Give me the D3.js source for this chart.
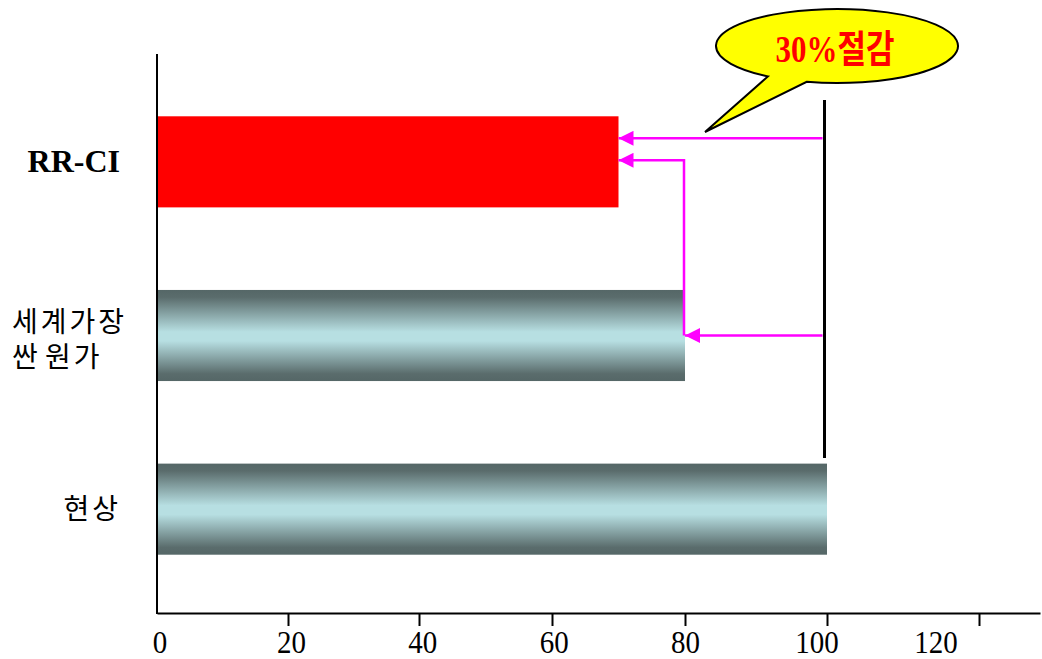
<!DOCTYPE html>
<html>
<head>
<meta charset="utf-8">
<script src="https://cdn.jsdelivr.net/npm/d3@7/dist/d3.min.js"></script>
<style>
  html, body { margin: 0; padding: 0; background: #fff; }
  svg { display: block; }
</style>
</head>
<body>
<svg id="chart" width="1042" height="659"></svg>
<script>
// ---- data ----
const categories = ["RR-CI", "세계가장 싼 원가", "현상"];
const values = [70, 80, 100];
const tickValues = [0, 20, 40, 60, 80, 100, 120];
const tickLabels = ["0", "20", "40", "60", "80", "100", "120"];
const baselineValue = 100;
const calloutNumber = "30%";
const calloutWord = "절감";

// ---- layout ----
const svg = d3.select("#chart");

// the reference axis is slightly non-uniform; piecewise linear scales reproduce it
const x = d3.scaleLinear()
  .domain([0, 40, 80, 100, 120, 128])
  .range([157, 419, 685, 827, 979, 1040]);
const xLabel = d3.scaleLinear()
  .domain([0, 100, 120])
  .range([160, 817, 936]);
const y = d3.scaleBand()
  .domain(categories)
  .range([75, 596])
  .paddingInner(0.4755)
  .paddingOuter(0.2378);
const axisY = 613, axisTop = 54;

const defs = svg.append("defs");
const grad = defs.append("linearGradient")
  .attr("id", "steel").attr("x1", 0).attr("y1", 0).attr("x2", 0).attr("y2", 1);
[[0, "#556767"], [0.08, "#5a6c6c"], [0.46, "#b7dfe2"], [0.56, "#b7dfe2"], [0.92, "#5a6c6c"], [1, "#556767"]]
  .forEach(([o, c]) => grad.append("stop").attr("offset", o).attr("stop-color", c));

defs.append("marker")
  .attr("id", "arrow").attr("viewBox", "0 0 15 15")
  .attr("refX", 15).attr("refY", 7.5)
  .attr("markerWidth", 15).attr("markerHeight", 15)
  .attr("markerUnits", "userSpaceOnUse")
  .attr("orient", "auto")
  .append("path").attr("d", "M0,0 L15,7.5 L0,15 Z").attr("fill", "#ff00ff");

// ---- bars ----
svg.append("g").selectAll("rect")
  .data(categories)
  .join("rect")
  .attr("x", x(0))
  .attr("y", d => y(d))
  .attr("width", (d, i) => x(values[i]) - x(0))
  .attr("height", y.bandwidth())
  .attr("fill", (d, i) => i === 0 ? "#ff0000" : "url(#steel)");

// ---- axes ----
const xAxis = d3.axisBottom(x)
  .tickValues(tickValues.filter(v => v > 0))
  .tickSize(13).tickSizeOuter(0)
  .tickFormat("");
const gx = svg.append("g").attr("transform", `translate(0,${axisY})`).call(xAxis);
gx.select(".domain").attr("stroke", "#000").attr("stroke-width", 2);
gx.selectAll(".tick line").attr("stroke", "#000").attr("stroke-width", 2);

svg.append("g").selectAll("text")
  .data(tickValues)
  .join("text")
  .attr("transform", d => `translate(${xLabel(d)},653) scale(1,1.08)`)
  .attr("text-anchor", "middle")
  .attr("font-family", "'Liberation Serif', 'Times New Roman', serif")
  .attr("font-size", 29)
  .attr("fill", "#000")
  .text((d, i) => tickLabels[i]);

svg.append("line")
  .attr("x1", x(0)).attr("x2", x(0))
  .attr("y1", axisTop).attr("y2", axisY + 1)
  .attr("stroke", "#000").attr("stroke-width", 2);

// ---- category labels ----
const cy = c => y(c) + y.bandwidth() / 2;
svg.append("text")
  .attr("x", 120).attr("y", cy(categories[0]) + 10)
  .attr("text-anchor", "end")
  .attr("font-family", "'Liberation Serif', 'Times New Roman', serif")
  .attr("font-weight", "bold").attr("font-size", 32)
  .text(categories[0]);

const korFont = "'Noto Sans CJK KR', 'Noto Sans', sans-serif";
const parts = categories[1].split(" ");
const lines2 = [parts[0], parts.slice(1).join(" ")];
svg.append("g").selectAll("text")
  .data(lines2)
  .join("text")
  .attr("x", 12)
  .attr("y", (d, i) => cy(categories[1]) - 4 + i * 35)
  .attr("font-family", korFont).attr("font-size", 28)
  .attr("letter-spacing", 3)
  .attr("word-spacing", -5)
  .text(d => d);

svg.append("text")
  .attr("x", 121).attr("y", cy(categories[2]) + 10)
  .attr("text-anchor", "end")
  .attr("font-family", korFont).attr("font-size", 28)
  .attr("letter-spacing", 3)
  .text(categories[2]);

// ---- reference line at 100 ----
const refX = x(baselineValue) - 2.5;
svg.append("line")
  .attr("x1", refX).attr("x2", refX)
  .attr("y1", 100).attr("y2", 458)
  .attr("stroke", "#000").attr("stroke-width", 3);

// ---- arrows ----
const mag = "#ff00ff";
const yA1 = y(categories[0]) + 22;
const yA2 = cy(categories[1]);
const yA3 = y(categories[0]) + 44;
const arrows = [
  [[refX - 2, yA1], [x(values[0]), yA1]],
  [[refX - 2, yA2], [x(values[1]), yA2]],
  [[x(values[1]) - 1, yA2], [x(values[1]) - 1, yA3], [x(values[0]), yA3]]
];
svg.append("g").selectAll("path")
  .data(arrows)
  .join("path")
  .attr("d", d => d3.line()(d))
  .attr("fill", "none")
  .attr("stroke", mag).attr("stroke-width", 2.5)
  .attr("marker-end", "url(#arrow)");

// ---- callout ----
const ecx = 837, ecy = 46, erx = 121, ery = 37;
const pt = a => [ecx + erx * Math.cos(a * Math.PI / 180), ecy + ery * Math.sin(a * Math.PI / 180)];
const p1 = pt(124.8), p2 = pt(104.5);
const tip = [705, 132];
svg.append("path")
  .attr("d", `M${p2[0]},${p2[1]} A${erx},${ery} 0 1 0 ${p1[0]},${p1[1]} L${tip[0]},${tip[1]} Z`)
  .attr("fill", "#ffff00").attr("stroke", "#000").attr("stroke-width", 2)
  .attr("stroke-linejoin", "miter");

const ct = svg.append("text")
  .attr("transform", "translate(835,62) scale(1,1.22)")
  .attr("text-anchor", "middle")
  .attr("fill", "#ff0000").attr("font-weight", "bold").attr("font-size", 31);
ct.append("tspan").attr("font-family", "'Liberation Serif', 'Times New Roman', serif").text(calloutNumber);
ct.append("tspan").attr("font-family", korFont).text(calloutWord);
</script>
</body>
</html>
